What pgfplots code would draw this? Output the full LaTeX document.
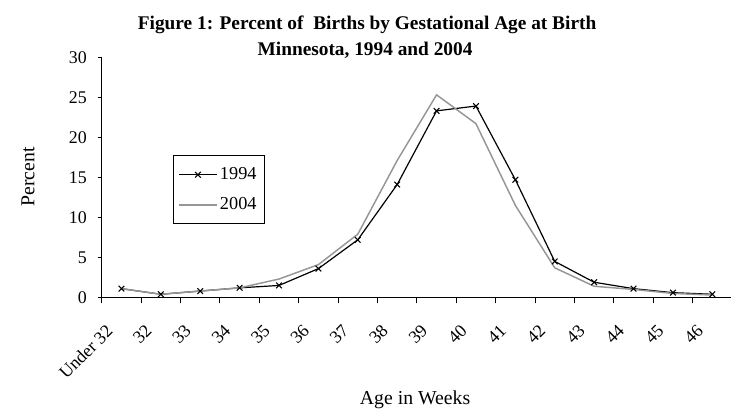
\documentclass[border=0pt]{standalone}
\usepackage{fontspec}
\setmainfont{Liberation Serif}
\usepackage{pgfplots}
\pgfplotsset{compat=1.18}
\definecolor{lightline}{RGB}{150,150,150}

\begin{document}
\begin{tikzpicture}[font=\fontsize{13.4}{15}\selectfont]
\useasboundingbox (0,0) rectangle (548.25pt,312pt);
\begin{axis}[
  at={(76.3pt,88.9pt)}, anchor=south west,
  scale only axis,
  width=472.7pt, height=180.2pt,
  xmin=-0.5, xmax=15.5,
  ymin=0, ymax=30,
  axis x line=bottom, axis y line=left,
  axis line style={-, line width=0.75pt},
  tick align=outside,
  % labels sit left of the category centre, as in the original
  xtick={-0.42,0.58,1.58,2.58,3.58,4.58,5.58,6.58,7.58,8.58,9.58,10.58,11.58,12.58,13.58,14.58},
  xticklabels={Under 32,32,33,34,35,36,37,38,39,40,41,42,43,44,45,46},
  minor xtick={-0.5,0.5,...,15.5},
  major x tick style={draw=none},
  minor x tick style={line width=0.75pt, black},
  minor tick length=4.5pt,
  major tick length=3pt,
  ytick={0,5,...,30},
  major y tick style={line width=0.75pt, black},
  /pgf/number format/assume math mode=true,
  tick label style={font=\fontsize{13.4}{15}\selectfont},
  yticklabel style={inner sep=0pt, xshift=-8pt},
  xticklabel style={inner sep=0pt, rotate=45, anchor=north east},
  xticklabel shift=16.5pt,
  legend style={at={(0.1126,0.592)}, anchor=north west, draw=black, line width=0.75pt,
    font=\fontsize{13.7}{15}\selectfont, inner xsep=4pt, inner ysep=7pt,
    row sep=8pt, legend cell align=left},
  legend image code/.code={
    \draw[#1, mark repeat=2, mark phase=2] plot coordinates {(0pt,0pt) (14pt,0pt) (28pt,0pt)};
  },
  clip=false,
]
\addplot[black, line width=0.9pt, mark=x, mark size=3pt, mark options={line width=0.8pt}]
  coordinates {
    (0,1.1) (1,0.4) (2,0.8) (3,1.2) (4,1.5) (5,3.6) (6,7.2) (7,14.1)
    (8,23.3) (9,23.9) (10,14.7) (11,4.5) (12,1.9) (13,1.1) (14,0.6) (15,0.4)
  };
\addlegendentry{1994}
\addplot[lightline, line width=1.1pt, no marks]
  coordinates {
    (0,1.1) (1,0.4) (2,0.8) (3,1.2) (4,2.3) (5,4.1) (6,7.9) (7,17.1)
    (8,25.3) (9,21.7) (10,11.5) (11,3.7) (12,1.4) (13,1.0) (14,0.5) (15,0.3)
  };
\addlegendentry{2004}
\end{axis}
\node[font=\bfseries\fontsize{14.5}{17}\selectfont] at (275.3pt,293.3pt)
  {Figure 1: Percent of~ Births by Gestational Age at Birth};
\node[font=\bfseries\fontsize{14.5}{17}\selectfont] at (273.8pt,274.5pt)
  {Minnesota, 1994 and 2004};
\node[rotate=90, font=\fontsize{14.8}{16}\selectfont] at (21pt,179.3pt) {Percent};
\node[font=\fontsize{14.8}{16}\selectfont] at (311.3pt,12pt) {Age in Weeks};
\end{tikzpicture}
\end{document}
